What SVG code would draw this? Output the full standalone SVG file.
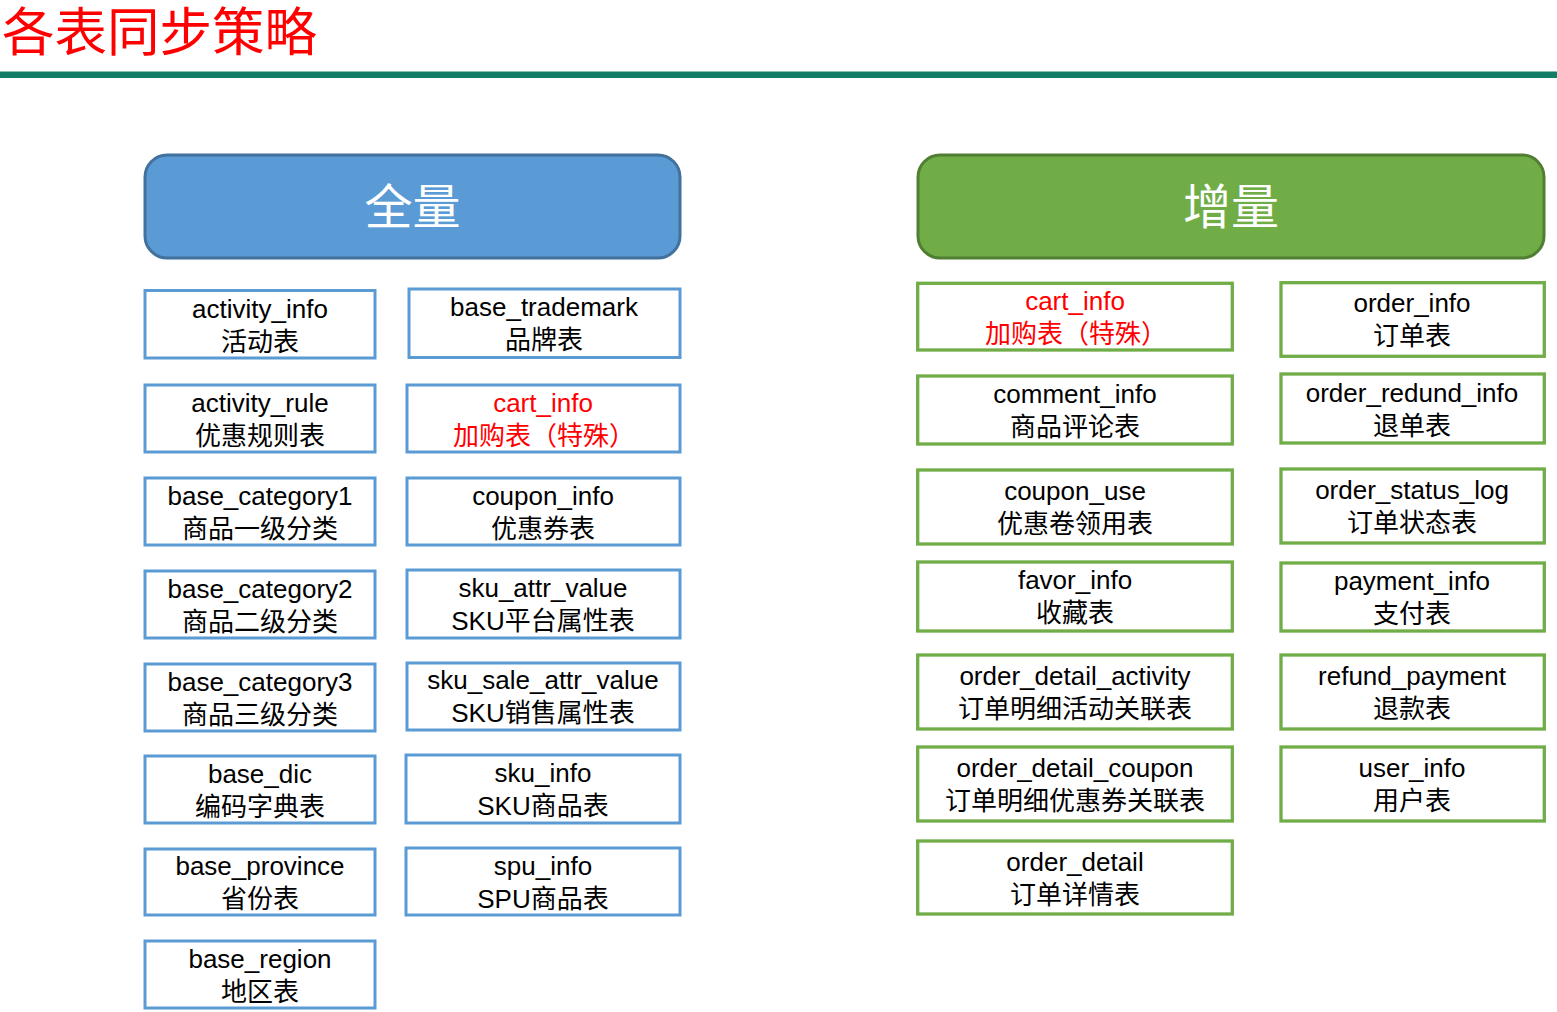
<svg xmlns="http://www.w3.org/2000/svg" width="1557" height="1012" viewBox="0 0 1557 1012">
<style>
.t{font-family:"Liberation Sans","Noto Sans CJK SC",sans-serif;font-size:26px;text-anchor:middle;fill:#000}
.red{fill:#FF0000}
.bb{fill:#fff;stroke:#5B9BD5;stroke-width:3}
.gb{fill:#fff;stroke:#70AD47;stroke-width:3.3}
.hd{font-family:"Noto Sans CJK SC",sans-serif;font-size:48px;text-anchor:middle;fill:#fff}
</style>
<rect width="1557" height="1012" fill="#fff"/>
<g id="title">
<text x="2" y="50.5" style="font-family:'Noto Sans CJK SC',sans-serif;font-size:52.5px;fill:#FF0000">各表同步策略</text>
<rect x="0" y="71.5" width="1557" height="6.5" fill="#127C66"/>
</g>
<g id="full-header">
<rect x="145" y="155" width="535" height="103" rx="22" fill="#5B9BD5" stroke="#41719C" stroke-width="3"/>
<text class="hd" x="412.5" y="224">全量</text>
</g>
<g id="inc-header">
<rect x="918" y="155" width="626" height="103" rx="22" fill="#70AD47" stroke="#507E32" stroke-width="3"/>
<text class="hd" x="1231" y="224">增量</text>
</g>
<g id="connectors"></g>
<!-- left column A -->
<g id="activity_info"><rect class="bb" x="145" y="290.5" width="230" height="67.5"/><text class="t" x="260" y="318">activity_info</text><text class="t" x="260" y="351">活动表</text></g>
<g id="activity_rule"><rect class="bb" x="145" y="385" width="230" height="67"/><text class="t" x="260" y="412">activity_rule</text><text class="t" x="260" y="445">优惠规则表</text></g>
<g id="base_category1"><rect class="bb" x="145" y="478" width="230" height="67"/><text class="t" x="260" y="505">base_category1</text><text class="t" x="260" y="538">商品一级分类</text></g>
<g id="base_category2"><rect class="bb" x="145" y="571" width="230" height="67"/><text class="t" x="260" y="598">base_category2</text><text class="t" x="260" y="631">商品二级分类</text></g>
<g id="base_category3"><rect class="bb" x="145" y="664" width="230" height="67"/><text class="t" x="260" y="691">base_category3</text><text class="t" x="260" y="724">商品三级分类</text></g>
<g id="base_dic"><rect class="bb" x="145" y="756" width="230" height="67"/><text class="t" x="260" y="783">base_dic</text><text class="t" x="260" y="816">编码字典表</text></g>
<g id="base_province"><rect class="bb" x="145" y="849" width="230" height="66"/><text class="t" x="260" y="875">base_province</text><text class="t" x="260" y="908">省份表</text></g>
<g id="base_region"><rect class="bb" x="145" y="941" width="230" height="67"/><text class="t" x="260" y="968">base_region</text><text class="t" x="260" y="1001">地区表</text></g>
<!-- left column B -->
<g id="base_trademark"><rect class="bb" x="409" y="289" width="271" height="68.5"/><text class="t" x="544" y="316">base_trademark</text><text class="t" x="544" y="349">品牌表</text></g>
<g id="cart_info_full"><rect class="bb" x="407" y="385" width="273" height="67"/><text class="t red" x="543" y="412">cart_info</text><text class="t red" x="544" y="445">加购表（特殊）</text></g>
<g id="coupon_info"><rect class="bb" x="407" y="478" width="273" height="67"/><text class="t" x="543" y="505">coupon_info</text><text class="t" x="543" y="538">优惠券表</text></g>
<g id="sku_attr_value"><rect class="bb" x="407" y="570" width="273" height="68"/><text class="t" x="543" y="597">sku_attr_value</text><text class="t" x="543" y="630">SKU平台属性表</text></g>
<g id="sku_sale_attr_value"><rect class="bb" x="407" y="663" width="273" height="67"/><text class="t" x="543" y="689">sku_sale_attr_value</text><text class="t" x="543" y="722">SKU销售属性表</text></g>
<g id="sku_info"><rect class="bb" x="406" y="755" width="274" height="68"/><text class="t" x="543" y="782">sku_info</text><text class="t" x="543" y="815">SKU商品表</text></g>
<g id="spu_info"><rect class="bb" x="406" y="848" width="274" height="67"/><text class="t" x="543" y="875">spu_info</text><text class="t" x="543" y="908">SPU商品表</text></g>
<!-- right column A -->
<g id="cart_info_inc"><rect class="gb" x="917.7" y="283.3" width="314.6" height="66.7"/><text class="t red" x="1075" y="310">cart_info</text><text class="t red" x="1076" y="343">加购表（特殊）</text></g>
<g id="comment_info"><rect class="gb" x="917.7" y="376" width="314.6" height="68"/><text class="t" x="1075" y="403">comment_info</text><text class="t" x="1075" y="436">商品评论表</text></g>
<g id="coupon_use"><rect class="gb" x="917.7" y="470" width="314.6" height="74"/><text class="t" x="1075" y="500">coupon_use</text><text class="t" x="1075" y="533">优惠卷领用表</text></g>
<g id="favor_info"><rect class="gb" x="917.7" y="562" width="314.6" height="69"/><text class="t" x="1075" y="589">favor_info</text><text class="t" x="1075" y="622">收藏表</text></g>
<g id="order_detail_activity"><rect class="gb" x="917.7" y="655" width="314.6" height="74"/><text class="t" x="1075" y="685">order_detail_activity</text><text class="t" x="1075" y="718">订单明细活动关联表</text></g>
<g id="order_detail_coupon"><rect class="gb" x="917.7" y="747" width="314.6" height="74"/><text class="t" x="1075" y="777">order_detail_coupon</text><text class="t" x="1075" y="810">订单明细优惠券关联表</text></g>
<g id="order_detail"><rect class="gb" x="917.7" y="841" width="314.6" height="73"/><text class="t" x="1075" y="871">order_detail</text><text class="t" x="1075" y="904">订单详情表</text></g>
<!-- right column B -->
<g id="order_info"><rect class="gb" x="1281" y="282.7" width="263.3" height="73.6"/><text class="t" x="1412" y="312">order_info</text><text class="t" x="1412" y="345">订单表</text></g>
<g id="order_redund_info"><rect class="gb" x="1281" y="374" width="263.3" height="69"/><text class="t" x="1412" y="402">order_redund_info</text><text class="t" x="1412" y="435">退单表</text></g>
<g id="order_status_log"><rect class="gb" x="1281" y="469" width="263.3" height="74"/><text class="t" x="1412" y="499">order_status_log</text><text class="t" x="1412" y="532">订单状态表</text></g>
<g id="payment_info"><rect class="gb" x="1281" y="563" width="263.3" height="68"/><text class="t" x="1412" y="590">payment_info</text><text class="t" x="1412" y="623">支付表</text></g>
<g id="refund_payment"><rect class="gb" x="1281" y="655" width="263.3" height="74"/><text class="t" x="1412" y="685">refund_payment</text><text class="t" x="1412" y="718">退款表</text></g>
<g id="user_info"><rect class="gb" x="1281" y="747" width="263.3" height="74"/><text class="t" x="1412" y="777">user_info</text><text class="t" x="1412" y="810">用户表</text></g>
</svg>
